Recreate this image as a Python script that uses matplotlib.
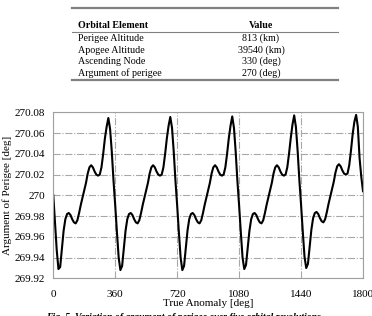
import matplotlib
matplotlib.use('Agg')
import matplotlib.pyplot as plt
from matplotlib.lines import Line2D
import numpy as np

# table of orbital elements
element_names = ['Perigee Altitude', 'Apogee Altitude', 'Ascending Node', 'Argument of perigee']
element_values = ['813 (km)', '39540 (km)', '330 (deg)', '270 (deg)']

# argument of perigee read every 10 deg of true anomaly, one list per revolution
rev1 = [270.000, 269.974, 269.947, 269.929, 269.931, 269.948, 269.966, 269.977, 269.982, 269.983,
        269.981, 269.977, 269.974, 269.973, 269.976, 269.983, 269.991, 269.998, 270.005, 270.012,
        270.021, 270.027, 270.029, 270.027, 270.023, 270.020, 270.019, 270.020, 270.027, 270.040,
        270.055, 270.066, 270.0745, 270.064, 270.042, 270.014]
rev2 = [269.990, 269.964, 269.940, 269.928, 269.932, 269.949, 269.966, 269.977, 269.982, 269.983,
        269.981, 269.977, 269.974, 269.973, 269.976, 269.983, 269.991, 269.998, 270.005, 270.012,
        270.021, 270.027, 270.029, 270.027, 270.023, 270.020, 270.019, 270.020, 270.027, 270.040,
        270.055, 270.067, 270.0755, 270.065, 270.042, 270.014]
rev3 = [269.990, 269.964, 269.940, 269.928, 269.932, 269.949, 269.966, 269.977, 269.982, 269.983,
        269.981, 269.977, 269.974, 269.973, 269.976, 269.983, 269.991, 269.998, 270.005, 270.012,
        270.021, 270.027, 270.029, 270.027, 270.023, 270.020, 270.019, 270.020, 270.027, 270.040,
        270.055, 270.067, 270.076, 270.065, 270.042, 270.014]
rev4 = [269.990, 269.964, 269.940, 269.929, 269.933, 269.949, 269.966, 269.977, 269.982, 269.983,
        269.981, 269.977, 269.974, 269.973, 269.976, 269.983, 269.991, 269.998, 270.005, 270.012,
        270.021, 270.027, 270.029, 270.027, 270.023, 270.020, 270.019, 270.020, 270.027, 270.040,
        270.055, 270.068, 270.077, 270.066, 270.043, 270.015]
rev5 = [269.991, 269.965, 269.941, 269.930, 269.934, 269.950, 269.967, 269.978, 269.983, 269.984,
        269.982, 269.978, 269.975, 269.974, 269.977, 269.984, 269.992, 269.999, 270.006, 270.013,
        270.022, 270.028, 270.030, 270.028, 270.024, 270.021, 270.020, 270.021, 270.029, 270.043,
        270.059, 270.071, 270.0775, 270.066, 270.036, 270.018, 270.004]

perigee = np.array(rev1 + rev2 + rev3 + rev4 + rev5)
anomaly = np.arange(len(perigee)) * 10

xticks = [0, 360, 720, 1080, 1440, 1800]
yticks = [269.92, 269.94, 269.96, 269.98, 270.0, 270.02, 270.04, 270.06, 270.08]
ytick_labels = ['269.92', '269.94', '269.96', '269.98', '270', '270.02', '270.04', '270.06', '270.08']

plt.rcParams['font.family'] = ['Liberation Serif', 'DejaVu Serif']

W, H = 372, 316
fig = plt.figure(figsize=(W / 100, H / 100), dpi=100)

def fx(px):
    return px / W

def fy(py):
    return 1 - py / H

# table
rule_color = '#808080'
fig.add_artist(Line2D([fx(72), fx(338)], [fy(7.5), fy(7.5)], color=rule_color, lw=1.6))
fig.add_artist(Line2D([fx(72), fx(338)], [fy(32), fy(32)], color=rule_color, lw=0.8))
fig.add_artist(Line2D([fx(72), fx(338)], [fy(79.5), fy(79.5)], color=rule_color, lw=1.6))
fig.text(fx(78), fy(28.5), 'Orbital Element', fontsize=7.2, fontweight='bold', va='baseline')
fig.text(fx(261), fy(28.5), 'Value', fontsize=7.2, fontweight='bold', va='baseline', ha='center')
for i, (name, val) in enumerate(zip(element_names, element_values)):
    yb = 41 + i * 11.6
    fig.text(fx(78), fy(yb), name, fontsize=7.2, va='baseline')
    fig.text(fx(261), fy(yb), val, fontsize=7.2, va='baseline', ha='center')

# chart
ax = fig.add_axes([fx(53.3), fy(278.4), fx(363) - fx(53.3), fy(112.3) - fy(278.4)])
ax.plot(anomaly, perigee, color='black', lw=1.5)
ax.set_xlim(0, 1800)
ax.set_ylim(269.92, 270.08)
ax.set_xticks(xticks)
ax.set_yticks(yticks)
ax.set_yticklabels(ytick_labels)
ax.tick_params(length=0, labelsize=8, pad=6)
ax.tick_params(axis='x', pad=8)
ax.grid(True, color='#a8a8a8', ls='-.', lw=0.8)
for sp in ax.spines.values():
    sp.set_color('#a0a0a0')
    sp.set_linewidth(0.8)
ax.set_xlabel('True Anomaly [deg]', fontsize=8)
ax.xaxis.set_label_coords(0.5, -0.154)
ax.xaxis.label.set_va('center')
ax.set_ylabel('Argument of Perigee [deg]', fontsize=8)
ax.yaxis.set_label_coords(-0.1495, 0.5)
ax.yaxis.label.set_va('center')

fig.text(fx(183), fy(313), 'Fig. 5. Variation of argument of perigee over five orbital revolutions',
         fontsize=7, fontweight='bold', fontstyle='italic', ha='center', va='top')

fig.savefig('out.png', dpi=100)
